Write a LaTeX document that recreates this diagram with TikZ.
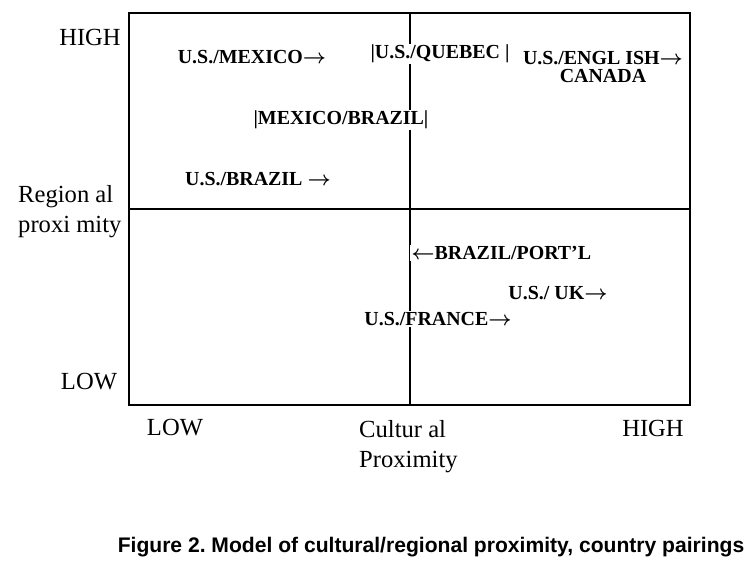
\documentclass[tikz,border=0pt]{standalone}
\usepackage{fontspec}
\setmainfont{Liberation Serif}
\newfontfamily\captionfont{Liberation Sans}
\frenchspacing
\begin{document}
\begin{tikzpicture}[x=0.03cm,y=-0.03cm,
    pair/.style={fill=white,inner sep=1pt,font=\fontsize{17}{15.5}\selectfont\bfseries\boldmath},
    axislabel/.style={inner sep=0pt,font=\fontsize{21}{25.5}\selectfont}]
        \useasboundingbox (0,0) rectangle (748,563);

        \draw [line width=1pt] (129,13) rectangle (690,405);
        \draw [line width=1pt] (129,209) -- (690,209);
        \draw [line width=1pt] (410,13) -- (410,405);

        \node (yhigh) at (90,37) [axislabel] {HIGH};
        \node (ylow) at (89,382) [axislabel] {LOW};
        \node (yname) at (18,212) [axislabel, anchor = west, align = left] {Region al\\proxi mity};
        \node (xlow) at (175,428) [axislabel] {LOW};
        \node (xhigh) at (653,428) [axislabel] {HIGH};
        \node (xname) at (359,447) [axislabel, anchor = west, align = left] {Cultur al\\Proximity};

        \node (usmex) at (252,57) [pair] {U.S./MEXICO$\rightarrow$};
        \node (usque) at (440,54) [pair] {|U.S./QUEBEC |};
        \node (useng) at (603,67) [pair, align = center] {U.S./ENGL ISH$\rightarrow$\\CANADA};
        \node (mexbra) at (341,120) [pair] {|MEXICO/BRAZIL|};
        \node (usbra) at (258,179) [pair] {U.S./BRAZIL $\rightarrow$};
        \node (brapor) at (410,253) [pair, anchor = west] {$\leftarrow$BRAZIL/PORT'L};
        \node (usuk) at (558,293) [pair] {U.S./ UK$\rightarrow$};
        \node (usfra) at (438,319) [pair] {U.S./FRANCE$\rightarrow$};

        \node (caption) at (431,547) [font=\captionfont\fontsize{18}{20}\selectfont\bfseries] {Figure 2. Model of cultural/regional proximity, country pairings};
    \end{tikzpicture}
\end{document}
